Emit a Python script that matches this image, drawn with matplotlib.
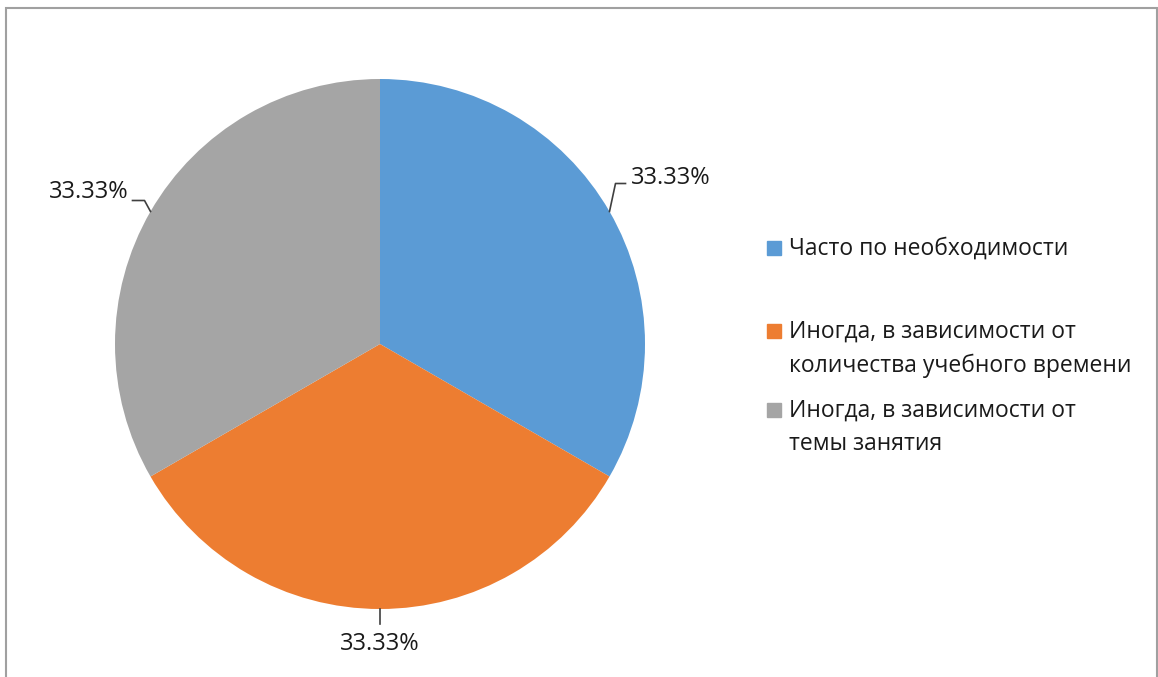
import matplotlib.pyplot as plt
import numpy as np
from matplotlib.patches import Rectangle

plt.rcParams['font.family'] = ['Open Sans', 'DejaVu Sans']

labels = ['Часто по необходимости',
          'Иногда, в зависимости от\nколичества учебного времени',
          'Иногда, в зависимости от\nтемы занятия']
values = [33.33, 33.33, 33.33]
colors = ['#5b9bd5', '#ed7d31', '#a5a5a5']

W, H = 1158, 677
fig = plt.figure(figsize=(W / 100, H / 100), dpi=100)
ax = fig.add_axes([0, 0, 1, 1])

cx, cy, r = 380, H - 344, 265
wedges, _ = ax.pie(values, colors=colors, startangle=90, counterclock=False,
                   center=(cx, cy), radius=r, frame=True)
ax.set_xlim(0, W)
ax.set_ylim(0, H)
ax.axis('off')

# leader line elbows / ends and text anchors, in pixel offsets from slice edge midpoint
layout = [
    dict(elbow=(6, 28), end=(16, 28), text=(21, 34), ha='left'),
    dict(elbow=(0, -15), end=(0, -15), text=(0, -35), ha='center'),
    dict(elbow=(-6, 11), end=(-18, 11), text=(-22, 19), ha='right'),
]
for w, v, lay in zip(wedges, values, layout):
    ang = np.deg2rad((w.theta1 + w.theta2) / 2)
    px, py = cx + r * np.cos(ang), cy + r * np.sin(ang)
    ex, ey = px + lay['elbow'][0], py + lay['elbow'][1]
    fx, fy = px + lay['end'][0], py + lay['end'][1]
    ax.plot([px, ex, fx], [py, ey, fy], color='#404040', lw=1.2)
    ax.text(px + lay['text'][0], py + lay['text'][1], f'{v:.2f}%',
            ha=lay['ha'], va='center', fontsize=17, color='#1a1a1a')

# legend
leg_x, leg_rows = 767, [248, 331, 410]
for lab, col, ry in zip(labels, colors, leg_rows):
    ax.add_patch(Rectangle((leg_x, H - ry - 7), 14, 14, color=col))
    ax.text(leg_x + 22, H - ry + 11, lab, ha='left', va='top', fontsize=16.5,
            color='#1a1a1a', linespacing=1.5)

# outer border
fig.patches.append(Rectangle((5.5 / W, -0.1), (W - 7) / W, (H - 8) / H + 0.1,
                             transform=fig.transFigure, fill=False,
                             edgecolor='#a0a0a0', lw=1.5))

fig.savefig('out.png', dpi=100)
